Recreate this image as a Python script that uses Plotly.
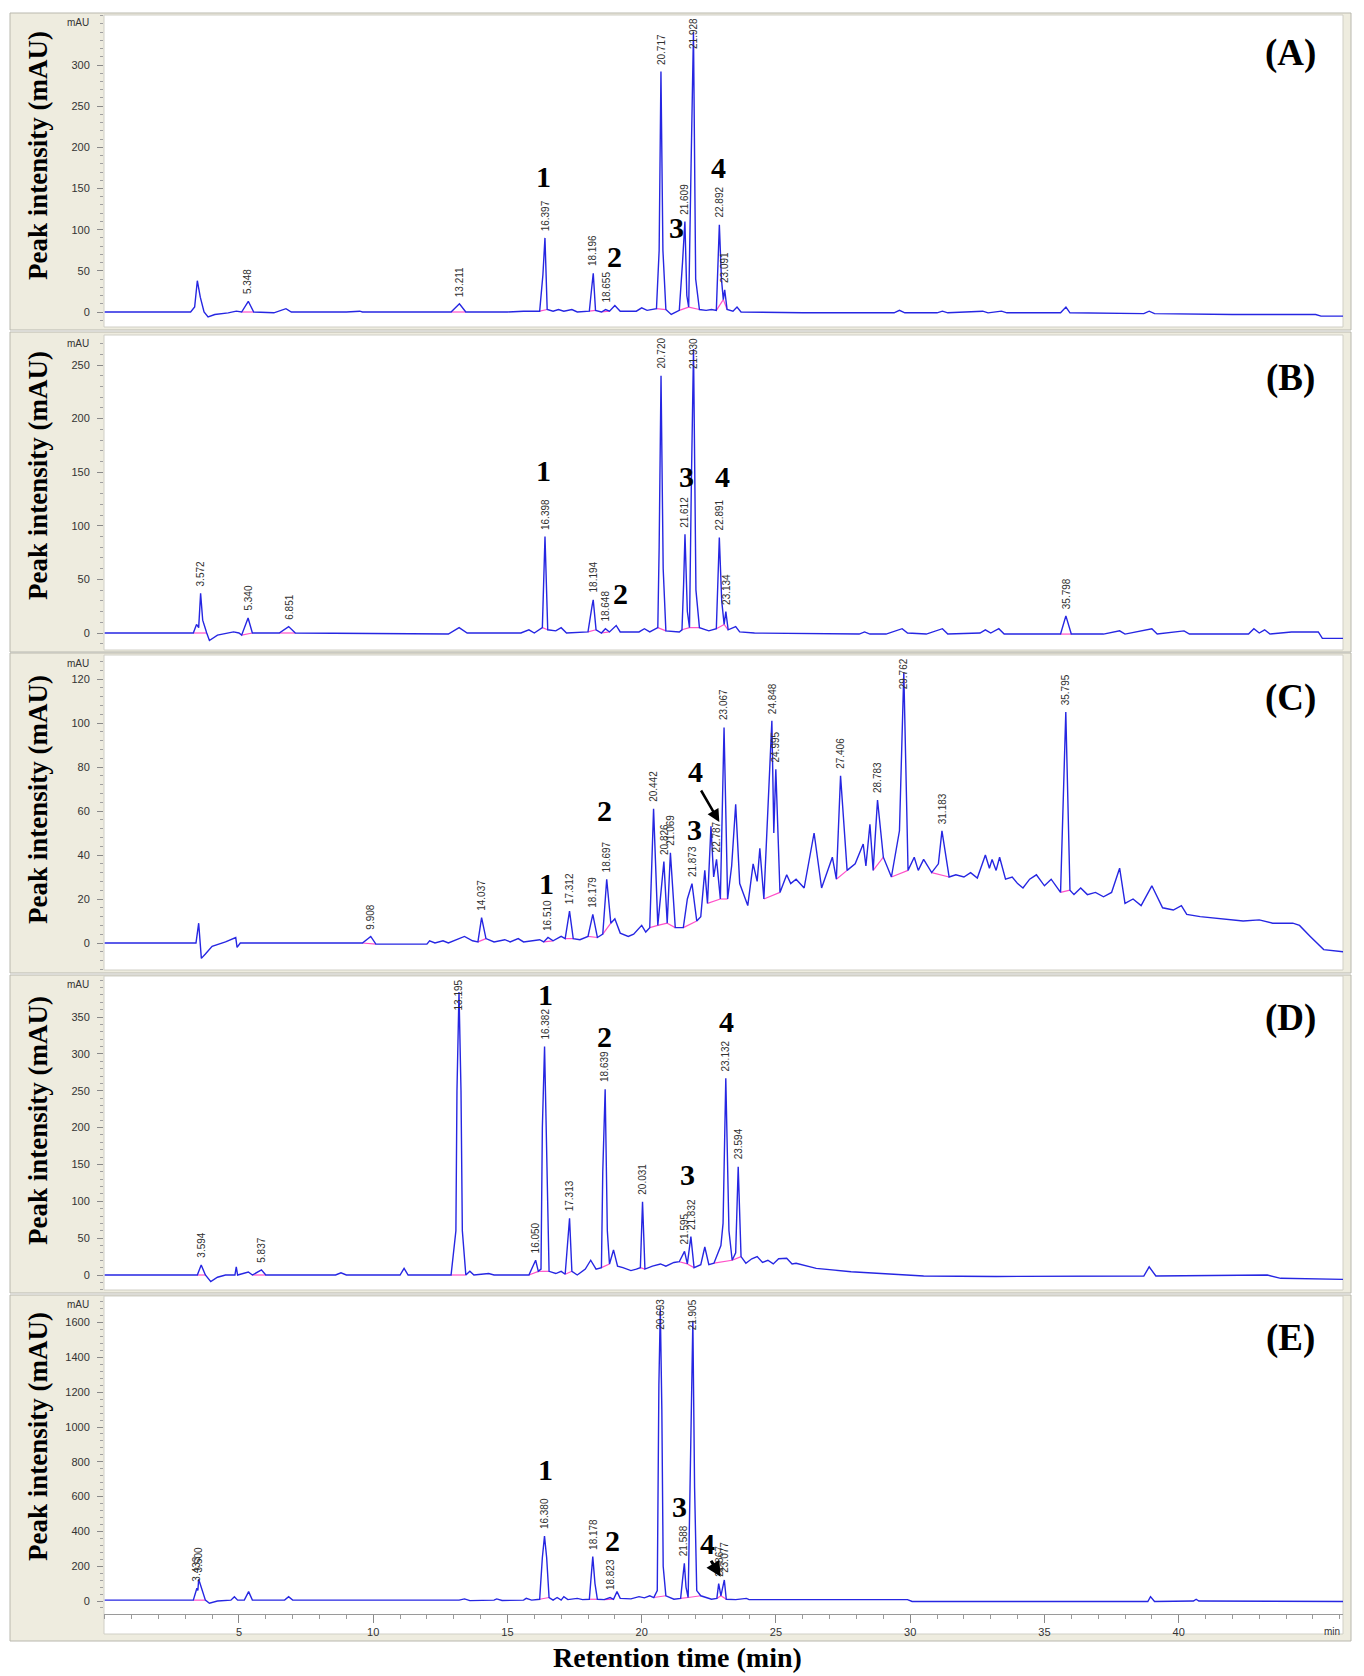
import numpy as np
import plotly.graph_objects as go

W, H = 1364, 1676

# ---------------- data (retention time in min, intensity in mAU) ----------------
tA = [0, 3.20, 3.35, 3.45, 3.56, 3.70, 3.85, 4.10, 4.60, 4.90, 5.10, 5.348, 5.55, 6.30, 6.75, 6.95,
      9.00, 9.50, 9.60, 12.90, 13.211, 13.45, 15.00, 15.60, 16.20, 16.32, 16.397, 16.48, 16.70, 16.90,
      17.10, 17.40, 17.60, 18.05, 18.14, 18.196, 18.28, 18.50, 18.655, 18.80, 19.00, 19.20, 19.80,
      20.00, 20.20, 20.55, 20.65, 20.717, 20.79, 20.90, 21.10, 21.40, 21.52, 21.609, 21.68, 21.75,
      21.84, 21.928, 22.01, 22.15, 22.40, 22.60, 22.78, 22.84, 22.892, 22.97, 23.04, 23.091, 23.18,
      23.40, 23.55, 23.70, 26.00, 29.40, 29.60, 29.80, 31.00, 31.20, 31.40, 32.70, 32.90, 33.40,
      33.60, 35.60, 35.80, 35.95, 38.70, 38.90, 39.10, 42.00, 45.10, 45.30, 46.15]
yA = [0, 0, 6, 38, 18, 0, -6, -3, -1, 1, 0, 13, 0, -1, 4, 0,
      0, 1, 0, 0, 10, 0, 0, 1, 1, 45, 90, 3, 1, 3,
      1, 3, 0, 1, 30, 47, 2, 0, 3, 1, 8, 1, 1,
      5, 2, 4, 75, 292, 75, 3, -3, 2, 60, 110, 20, 6,
      180, 340, 40, 3, 2, 3, 2, 60, 106, 40, 15, 27, 3,
      1, 6, 0, -1, -1, 2, -1, -1, 1, -1, 1, -1, 1,
      -1, -1, 6, -1, -2, 1, -2, -3, -3, -5, -5]
peaksA = [5.348, 13.211, 16.397, 18.196, 18.655, 20.717, 21.609, 21.928, 22.892, 23.091]
basesA = [(5.10, 5.55), (12.90, 13.45), (16.20, 16.48), (18.05, 18.28), (18.50, 18.80), (20.55, 20.90),
          (21.40, 21.75), (21.75, 22.15), (22.78, 23.04), (23.04, 23.18)]

tB = [0, 3.30, 3.42, 3.50, 3.572, 3.65, 3.80, 3.90, 4.20, 4.80, 5.00, 5.10, 5.340, 5.50, 6.50, 6.851,
      7.10, 12.80, 13.20, 13.50, 15.50, 15.80, 16.00, 16.30, 16.398, 16.50, 16.80, 17.00, 17.20,
      18.00, 18.15, 18.194, 18.30, 18.50, 18.648, 18.80, 19.05, 19.20, 19.90, 20.10, 20.30, 20.60,
      20.65, 20.720, 20.80, 20.90, 21.40, 21.50, 21.56, 21.612, 21.70, 21.78, 21.85, 21.930, 22.02,
      22.15, 22.50, 22.78, 22.84, 22.891, 22.98, 23.07, 23.134, 23.22, 23.50, 23.65, 24.20, 28.10,
      28.30, 28.50, 29.10, 29.70, 29.90, 30.60, 31.20, 31.40, 32.60, 32.80, 33.00, 33.30, 33.50,
      35.60, 35.798, 36.00, 37.20, 37.80, 38.00, 39.00, 39.20, 40.20, 40.40, 42.60, 42.80, 43.00,
      43.20, 43.40, 44.20, 45.20, 45.35, 46.15]
yB = [0, 0, 8, 5, 37, 12, 0, -7, -2, 1, 0, -2, 14, 0, 0, 6,
      0, -1, 5, 0, 0, 3, 0, 5, 90, 3, 2, 5, 0,
      1, 25, 31, 3, 0, 4, 1, 7, 1, 1, 4, 1, 5,
      80, 240, 60, 2, 1, 3, 45, 92, 20, 5, 140, 265, 40,
      5, 2, 4, 50, 89, 30, 8, 20, 3, 6, 1, 0, -1,
      1, -1, -1, 4, 0, -1, 4, -1, 0, 3, 0, 4, -1,
      -1, 16, -1, -1, 2, -1, 4, -1, 2, -1, -1, 4, 0,
      3, -1, 1, 1, -5, -5]
peaksB = [3.572, 5.340, 6.851, 16.398, 18.194, 18.648, 20.720, 21.612, 21.930, 22.891, 23.134, 35.798]
basesB = [(3.30, 3.80), (5.10, 5.50), (6.50, 7.10), (16.30, 16.50), (18.00, 18.30), (18.50, 18.80),
          (20.60, 20.90), (21.50, 21.78), (21.78, 22.15), (22.78, 23.07), (23.07, 23.22), (35.60, 36.00)]

tC = [0, 3.40, 3.50, 3.60, 3.75, 4.00, 4.50, 4.88, 4.93, 5.05, 9.60, 9.908, 10.10, 12.00, 12.10, 12.30,
      12.60, 12.80, 13.40, 13.70, 13.90, 14.037, 14.20, 14.50, 14.90, 15.10, 15.40, 15.60, 16.20,
      16.35, 16.510, 16.70, 17.00, 17.15, 17.312, 17.45, 17.70, 18.00, 18.179, 18.35, 18.55, 18.697,
      18.85, 19.00, 19.20, 19.50, 19.70, 20.00, 20.15, 20.30, 20.442, 20.60, 20.826, 20.95, 21.069,
      21.25, 21.55, 21.70, 21.873, 22.05, 22.20, 22.35, 22.45, 22.58, 22.68, 22.787, 22.93, 23.067,
      23.20, 23.35, 23.50, 23.65, 23.95, 24.15, 24.30, 24.40, 24.55, 24.848, 24.92, 24.995, 25.15,
      25.40, 25.55, 25.75, 26.05, 26.42, 26.70, 27.10, 27.25, 27.406, 27.65, 27.95, 28.25, 28.35,
      28.50, 28.62, 28.783, 29.00, 29.30, 29.60, 29.762, 29.92, 30.15, 30.30, 30.50, 30.80, 31.05,
      31.183, 31.45, 31.70, 32.00, 32.25, 32.50, 32.80, 32.95, 33.05, 33.20, 33.33, 33.55, 33.80,
      34.00, 34.20, 34.45, 34.70, 35.00, 35.25, 35.60, 35.795, 35.95, 36.10, 36.35, 36.60, 36.90,
      37.20, 37.50, 37.80, 38.00, 38.30, 38.60, 39.00, 39.40, 39.80, 40.10, 40.30, 40.80, 41.50,
      42.40, 43.00, 43.50, 44.25, 44.50, 44.90, 45.40, 46.15]
yC = [0, 0, 9, -7, -5, -1.5, 0.5, 2.5, -2, 0, 0, 3, -0.5, -0.5, 1, 0,
      1, 0, 3, 1, 0.5, 11.5, 2, 0.5, 1.5, 0.5, 2, 0.5, 1.5,
      0.5, 2.5, 1, 3, 2, 14.5, 2, 1.5, 3, 13, 2.5, 4, 29,
      9, 11, 4.5, 3, 4, 8, 5, 7, 61, 8, 37, 9, 41,
      7, 7, 20, 27, 10, 12, 33, 18, 53, 30, 38, 20, 98,
      20, 35, 63, 27, 17, 36, 28, 43, 20, 101, 50, 79, 23,
      31, 27, 29, 25, 50, 25, 39, 29, 76, 33, 36, 45, 35,
      54, 33, 65, 39, 30, 51, 123, 33, 39, 33, 38, 32, 36,
      51, 30, 31, 30, 32, 29.5, 40, 34, 38, 33, 39, 29, 30,
      27, 25, 29, 31, 26, 29, 23, 105, 24, 22, 25, 22, 23,
      21, 23, 34, 18, 20, 17, 26, 16, 15, 17, 13, 12, 11,
      10, 10.5, 9, 9, 8, 3, -3, -4]
peaksC = [9.908, 14.037, 16.510, 17.312, 18.179, 18.697, 20.442, 20.826, 21.069, 21.873, 22.787,
          23.067, 24.848, 24.995, 27.406, 28.783, 29.762, 31.183, 35.795]
basesC = [(9.60, 10.10), (13.90, 14.20), (16.35, 16.70), (17.15, 17.45), (18.00, 18.35), (18.55, 18.85),
          (20.30, 20.60), (20.60, 20.95), (20.95, 21.25), (21.55, 22.05), (22.45, 22.93), (22.93, 23.20),
          (24.55, 25.15), (27.25, 27.65), (28.62, 29.00), (29.30, 29.92), (30.80, 31.45), (35.60, 35.95)]

tD = [0, 3.45, 3.594, 3.75, 3.95, 4.20, 4.50, 4.85, 4.90, 4.95, 5.35, 5.50, 5.837, 6.00, 8.60, 8.80,
      9.00, 11.00, 11.15, 11.30, 12.90, 13.08, 13.12, 13.195, 13.27, 13.32, 13.45, 13.60, 13.75,
      14.30, 14.50, 15.80, 16.050, 16.15, 16.25, 16.30, 16.382, 16.45, 16.55, 16.80, 17.00, 17.15,
      17.24, 17.313, 17.40, 17.60, 17.90, 18.10, 18.30, 18.50, 18.55, 18.639, 18.72, 18.80, 18.95,
      19.10, 19.30, 19.60, 19.80, 19.95, 20.031, 20.12, 20.40, 20.70, 20.90, 21.20, 21.40, 21.595,
      21.70, 21.832, 21.95, 22.20, 22.35, 22.50, 22.69, 22.95, 23.03, 23.132, 23.25, 23.37, 23.50,
      23.594, 23.70, 23.88, 24.10, 24.30, 24.50, 24.70, 24.90, 25.10, 25.40, 25.60, 25.75, 26.50,
      27.80, 29.20, 30.50, 33.20, 35.60, 38.70, 38.90, 39.15, 43.30, 43.80, 46.15]
yD = [0, 0, 13.6, 0, -9, -3, 0, 0, 11, 0, 4, 0, 7, 0, 0, 3,
      0, 0, 9, 0, 0, 60, 250, 384, 250, 60, 0, 5, 0,
      2, 0, 0, 20, 5, 8, 200, 310, 200, 5, 2, 5, 1,
      40, 77, 5, 0, 8, 20, 8, 10, 140, 252, 60, 15, 34,
      12, 10, 6, 8, 10, 99.5, 8, 12, 15, 12, 17, 18, 32,
      15, 52, 10, 14, 38, 14, 16, 40, 70, 267, 60, 20, 30,
      147, 25, 16, 22, 25, 17, 20, 15, 22, 22.6, 15, 16, 9,
      4.5, 1, -1.4, -2, -1.4, -1.4, 11, -1.4, 0, -4.5, -6]
peaksD = [3.594, 5.837, 13.195, 16.050, 16.382, 17.313, 18.639, 20.031, 21.595, 21.832, 23.132, 23.594]
basesD = [(3.45, 3.75), (5.50, 6.00), (12.90, 13.45), (15.80, 16.15), (16.15, 16.55), (17.15, 17.40),
          (18.50, 18.80), (19.95, 20.12), (21.40, 21.70), (21.70, 21.95), (22.69, 23.37), (23.37, 23.70)]

tE = [0, 3.30, 3.433, 3.47, 3.500, 3.62, 3.75, 3.90, 4.20, 4.70, 4.83, 4.95, 5.20, 5.36, 5.50, 6.70,
      6.85, 7.00, 13.20, 13.40, 13.60, 14.50, 14.60, 14.80, 15.60, 15.70, 15.90, 16.20, 16.30,
      16.380, 16.46, 16.55, 16.70, 16.85, 17.00, 17.10, 17.25, 17.60, 17.80, 18.05, 18.13, 18.178,
      18.26, 18.35, 18.60, 18.823, 18.95, 19.08, 19.20, 19.60, 19.90, 20.10, 20.30, 20.45, 20.58,
      20.64, 20.693, 20.75, 20.80, 20.90, 21.20, 21.45, 21.52, 21.588, 21.65, 21.73, 21.80, 21.905,
      21.97, 22.05, 22.20, 22.60, 22.80, 22.867, 22.95, 23.077, 23.15, 23.50, 23.90, 24.00, 29.90,
      30.07, 38.85, 38.95, 39.10, 40.55, 40.65, 40.75, 46.15]
yE = [5, 5, 73, 60, 125, 60, 5, -13, 0, 5, 25, 5, 5, 54, 5, 5,
      25, 5, 5, 12, 2, 5, 12, 3, 5, 15, 5, 10, 250,
      373, 250, 20, 5, 20, 5, 25, 8, 15, 8, 10, 150, 255,
      100, 10, 8, 20, 10, 54, 15, 12, 25, 18, 30, 20, 60,
      1240, 1680, 1100, 200, 30, 10, 15, 120, 216, 80, 20, 650, 1610,
      650, 60, 30, 10, 15, 100, 30, 121, 10, 8, 15, 8, 8,
      -3, -3, 25, -3, 0, 10, 0, -3]
peaksE = [3.433, 3.500, 16.380, 18.178, 18.823, 20.693, 21.588, 21.905, 22.867, 23.077]
basesE = [(3.30, 3.75), (16.20, 16.55), (18.05, 18.35), (18.60, 18.95), (20.45, 20.90), (21.45, 21.73),
          (21.73, 22.20), (22.80, 22.95), (22.95, 23.15)]

panel_names = ["(A)", "(B)", "(C)", "(D)", "(E)"]
compound_ids = ["1", "2", "3", "4"]
ytick_step = [50, 50, 20, 50, 200]
ytick_max = [300, 250, 120, 350, 1600]
xtick_vals = [5, 10, 15, 20, 25, 30, 35, 40]

# ---------------- layout geometry (pixels) ----------------
X_LEFT, X_RIGHT = 104, 1343          # plot area horizontal extent
T0_PX, PX_PER_MIN = 104.7, 26.85     # x pixel of 0 min, pixels per minute
FRAME_L, FRAME_R = 10, 1351
# per panel: frame top, frame bottom, plot top, plot bottom, pixel of 0 mAU, px per mAU
geom = [
    (13, 330, 15, 327, 312, 0.8233),
    (332, 652, 335, 650, 633, 1.072),
    (653, 973, 655, 970, 943, 2.2),
    (975, 1293, 976, 1290, 1275, 0.737),
    (1295, 1641, 1296, 1614, 1601, 0.174),
]
white_bottom = [327, 650, 970, 1290, 1634]

def px(x):
    return x / W

def py(y):
    return 1 - y / H

xrange_ = [(X_LEFT - T0_PX) / PX_PER_MIN, (X_RIGHT - T0_PX) / PX_PER_MIN]

series = [(tA, yA, peaksA, basesA), (tB, yB, peaksB, basesB), (tC, yC, peaksC, basesC),
          (tD, yD, peaksD, basesD), (tE, yE, peaksE, basesE)]

fig = go.Figure()
shapes = []
annotations = []
layout_axes = {}

BLUE = "#2626e2"
PINK = "#ff4fc8"
SERIF = "Liberation Serif"
SANS = "Liberation Sans"

for i, ((t, y, peaks, bases), g) in enumerate(zip(series, geom)):
    n = i + 1
    ft, fb, pt, pb, zpx, sc = g
    xa = "x" if n == 1 else f"x{n}"
    ya = "y" if n == 1 else f"y{n}"
    yr = [(zpx - pb) / sc, (zpx - pt) / sc]

    # frames
    shapes.append(dict(type="rect", xref="paper", yref="paper", x0=px(FRAME_L), x1=px(FRAME_R),
                       y0=py(fb), y1=py(ft), fillcolor="#eeecdf", line=dict(color="#b9b8ae", width=1),
                       layer="below"))
    shapes.append(dict(type="rect", xref="paper", yref="paper", x0=px(X_LEFT), x1=px(X_RIGHT),
                       y0=py(white_bottom[i]), y1=py(pt), fillcolor="white",
                       line=dict(color="#d0cfc6", width=1), layer="below"))

    # integration baselines (pink)
    bx, by = [], []
    for (a, b) in bases:
        bx += [a, b, None]
        by += [float(np.interp(a, t, y)), float(np.interp(b, t, y)), None]
    fig.add_trace(go.Scatter(x=bx, y=by, mode="lines", line=dict(color=PINK, width=1.2),
                             xaxis=xa, yaxis=ya, showlegend=False, hoverinfo="skip"))
    # chromatogram
    fig.add_trace(go.Scatter(x=t, y=y, mode="lines", line=dict(color=BLUE, width=1.4),
                             xaxis=xa, yaxis=ya, showlegend=False, hoverinfo="skip"))

    # retention-time labels
    ta = np.array(t)
    yarr = np.array(y)
    for p in peaks:
        m = np.abs(ta - p) < 0.06
        apex = float(yarr[m].max()) if m.any() else float(np.interp(p, t, y))
        lab_len = 36 / sc
        ybot = min(apex + 5 / sc, yr[1] - lab_len)
        annotations.append(dict(x=p, y=ybot, xref=xa, yref=ya, text=f"{p:.3f}", showarrow=False,
                                textangle=-90, xanchor="center", yanchor="bottom",
                                font=dict(family=SANS, size=10, color="#303030")))

    dom_y = [py(pb), py(pt)]
    layout_axes["xaxis" if n == 1 else f"xaxis{n}"] = dict(
        domain=[px(X_LEFT), px(X_RIGHT)], range=xrange_, anchor=ya,
        showgrid=False, zeroline=False, fixedrange=True,
        showticklabels=(n == 5), ticks="outside" if n == 5 else "",
        tickvals=xtick_vals if n == 5 else None, ticklen=8, tickcolor="#8a8a8a",
        showline=(n == 5), linecolor="#9a9a9a",
        tickfont=dict(family=SANS, size=11, color="#333"),
        minor=dict(dtick=1, ticklen=4, tickcolor="#9a9a9a", ticks="outside") if n == 5 else None,
    )
    layout_axes["yaxis" if n == 1 else f"yaxis{n}"] = dict(
        domain=dom_y, range=yr, anchor=xa, showgrid=False, zeroline=False, showline=False,
        tickvals=list(range(0, ytick_max[i] + 1, ytick_step[i])),
        ticks="outside", ticklen=6, tickcolor="#8a8a8a", ticklabelstandoff=5,
        tickfont=dict(family=SANS, size=11, color="#333"),
        minor=dict(dtick=ytick_step[i] / 5 if i != 4 else 40, ticklen=3, tickcolor="#a0a0a0",
                   ticks="outside"),
        fixedrange=True,
    )

    # mAU unit label at top of the axis
    annotations.append(dict(x=px(91), y=py(pt + 8), xref="paper", yref="paper", text="mAU",
                            showarrow=False, xanchor="right", yanchor="middle",
                            font=dict(family=SANS, size=10, color="#333")))
    # y title
    ycen = [156, 476, 800, 1121, 1437][i]
    annotations.append(dict(x=px(38), y=py(ycen), xref="paper", yref="paper",
                            text="<b>Peak intensity (mAU)</b>", textangle=-90, showarrow=False,
                            xanchor="center", yanchor="middle",
                            font=dict(family=SERIF, size=27, color="black")))
    # panel letter
    ylet = [53, 378, 698, 1018, 1338][i]
    annotations.append(dict(x=px(1290), y=py(ylet), xref="paper", yref="paper",
                            text=f"<b>{panel_names[i]}</b>", showarrow=False,
                            xanchor="center", yanchor="middle",
                            font=dict(family=SERIF, size=37, color="black")))

# compound numbers (time, mAU) per panel
num_pos = [
    [(16.36, 164), (18.97, 67), (21.3, 103), (22.85, 176)],
    [(16.35, 152), (19.2, 37), (21.65, 146), (23.0, 146)],
    [(16.45, 27), (18.63, 60), (21.95, 51.5), (22.0, 78)],
    [(16.4, 380), (18.63, 323), (21.7, 136), (23.16, 344)],
    [(16.4, 753), (18.93, 350), (21.4, 542), (22.44, 331)],
]
for i, plist in enumerate(num_pos):
    n = i + 1
    xa = "x" if n == 1 else f"x{n}"
    ya = "y" if n == 1 else f"y{n}"
    for lab, (tx, ty) in zip(compound_ids, plist):
        annotations.append(dict(x=tx, y=ty, xref=xa, yref=ya, text=f"<b>{lab}</b>", showarrow=False,
                                xanchor="center", yanchor="middle",
                                font=dict(family=SERIF, size=30, color="black")))

# arrows for compound 4 in panels C and E
annotations.append(dict(x=22.89, y=55, xref="x3", yref="y3", ax=22.18, ay=70, axref="x3", ayref="y3",
                        text="", showarrow=True, arrowhead=2, arrowsize=1, arrowwidth=2.5,
                        arrowcolor="black"))
annotations.append(dict(x=22.94, y=140, xref="x5", yref="y5", ax=22.55, ay=240, axref="x5", ayref="y5",
                        text="", showarrow=True, arrowhead=2, arrowsize=1, arrowwidth=3,
                        arrowcolor="black"))

# "min" unit on the time axis
annotations.append(dict(x=45.7, y=py(1631), xref="x5", yref="paper", text="min", showarrow=False,
                        xanchor="center", yanchor="middle", font=dict(family=SANS, size=10, color="#333")))
# x title
annotations.append(dict(x=px(677), y=py(1657), xref="paper", yref="paper",
                        text="<b>Retention time (min)</b>", showarrow=False,
                        xanchor="center", yanchor="middle",
                        font=dict(family=SERIF, size=28, color="black")))

fig.update_layout(
    width=W, height=H, margin=dict(l=0, r=0, t=0, b=0),
    paper_bgcolor="white", plot_bgcolor="rgba(0,0,0,0)",
    shapes=shapes, annotations=annotations, showlegend=False,
    **layout_axes,
)

fig.write_html("out.html", config={"displayModeBar": False},
               post_script="document.body.style.margin='0';document.body.style.overflow='hidden';")
